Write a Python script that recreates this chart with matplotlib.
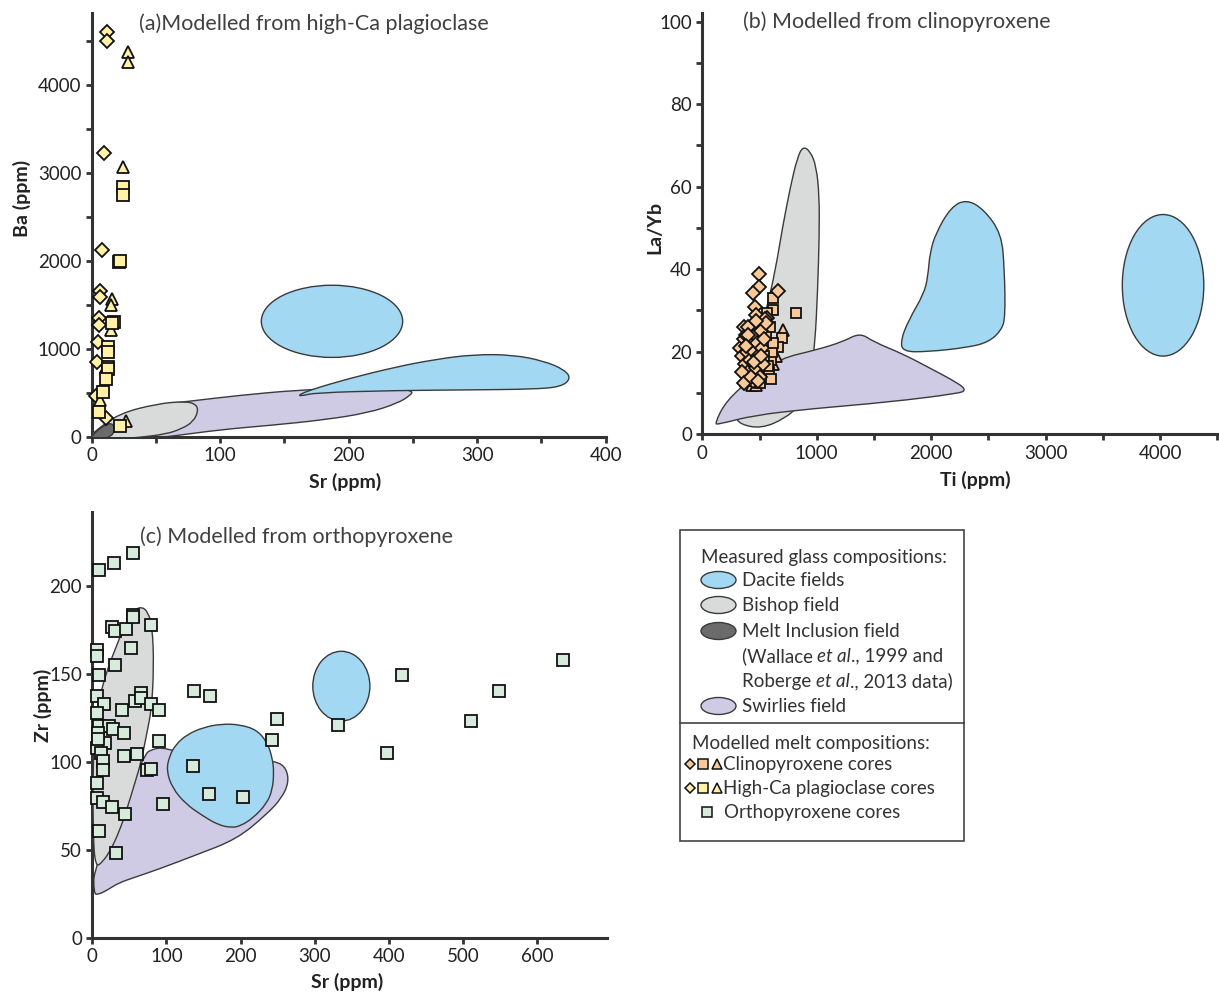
import numpy as np
import matplotlib
matplotlib.use('Agg')
import matplotlib.pyplot as plt
from matplotlib.path import Path
from matplotlib.patches import PathPatch, Ellipse, Rectangle

plt.rcParams['font.family'] = ['Lato', 'DejaVu Sans']

# ---------------- data ----------------
# (a) melts modelled from high-Ca plagioclase: Sr vs Ba
plag_dia_sr = [11.7, 11.7, 9.8, 8.3, 6.5, 6.5, 5.8, 5.8, 5.2, 3.9, 3.0, 10.9]
plag_dia_ba = [4602, 4500, 3227, 2121, 1656, 1584, 1345, 1269, 1080, 845, 466, 209]
plag_sq_sr = [24.1, 24.1, 21.5, 22.0, 17.6, 16.0, 12.9, 12.9, 12.4, 12.4, 11.1, 8.5, 5.9, 22.0]
plag_sq_ba = [2834, 2747, 1981, 2000, 1307, 1290, 1023, 966, 796, 765, 652, 511, 284, 125]
plag_tri_sr = [28.0, 28.0, 24.6, 15.6, 15.0, 15.0, 6.5, 26.5, 11.5]
plag_tri_ba = [4367, 4261, 3068, 1565, 1497, 1212, 417, 174, 790]

# (b) melts modelled from clinopyroxene: Ti vs La/Yb
cpx_dia_ti = [498, 496, 446, 659, 461, 469, 365, 563, 330, 345, 360, 370, 380, 390, 400,
              410, 420, 430, 440, 450, 460, 470, 480, 490, 500, 510, 520, 530, 540, 350,
              365, 395, 425, 455, 485, 515, 545, 560, 470, 400, 380]
cpx_dia_layb = [38.9, 35.6, 34.3, 34.6, 30.8, 28.9, 25.9, 28.1, 21.0, 19.0, 23.0, 17.0, 24.0,
                20.0, 15.0, 22.0, 18.0, 26.0, 13.0, 20.0, 24.0, 16.0, 22.0, 19.0, 14.0, 25.0,
                21.0, 17.0, 23.0, 15.0, 12.5, 26.0, 14.0, 17.5, 13.0, 19.0, 28.0, 27.0, 27.5,
                24.0, 21.5]
cpx_sq_ti = [615, 816, 615, 563, 694, 664, 420, 460, 500, 540, 580, 600, 610, 620, 560,
             590, 540, 575, 600]
cpx_sq_layb = [33.0, 29.5, 30.1, 29.3, 23.3, 21.1, 13.0, 13.0, 12.5, 14.0, 15.0, 18.0, 20.0,
               22.0, 24.0, 26.0, 19.0, 16.5, 13.5]
cpx_tri_ti = [703, 380, 430, 470, 520, 560, 600, 620, 410, 640]
cpx_tri_layb = [25.3, 13.0, 12.0, 12.0, 15.0, 18.0, 21.0, 17.0, 16.0, 19.0]

# (c) melts modelled from orthopyroxene: Sr vs Zr
opx_sr = [9.6, 29.8, 54.9, 6.9, 6.9, 8.5, 30.9, 52.2, 27.2, 30.9, 45.8, 54.9, 54.9, 78.8,
          6.9, 16.0, 40.5, 57.5, 65.5, 65.5, 78.8, 89.5, 8.5, 22.9, 28.2, 43.2, 17.6, 89.5,
          43.2, 60.2, 6.9, 12.3, 14.9, 13.9, 73.5, 78.8, 6.9, 6.9, 13.9, 27.2, 44.2, 94.8,
          9.6, 32.5, 6.4, 8.0, 8.0, 137.5, 158.8, 136.4, 157.7, 203.0, 249.3, 242.9, 331.9,
          417.2, 397.4, 510.4, 548.7, 635.6]
opx_zr = [208.6, 213.1, 218.4, 163.6, 159.9, 149.5, 154.8, 164.6, 176.3, 174.0, 175.5, 183.5,
          182.2, 177.8, 137.2, 133.0, 129.3, 134.4, 139.1, 136.2, 133.0, 129.3, 120.2, 120.2,
          118.7, 116.4, 110.7, 111.7, 103.2, 104.1, 107.9, 105.1, 100.3, 95.2, 95.2, 96.0,
          88.1, 79.6, 77.1, 74.5, 70.1, 75.8, 60.7, 48.0, 127.7, 116.4, 112.6, 140.4, 137.2,
          97.5, 81.4, 79.9, 124.0, 112.2, 120.6, 149.1, 105.1, 123.0, 140.4, 158.0]

# measured glass fields, outlines in data units
swirl_a_sr = [2, 20, 50, 80, 115, 160, 205, 238, 250, 248, 238, 215, 180, 140, 100, 60, 30, 2]
swirl_a_ba = [60, 230, 360, 410, 470, 530, 555, 550, 520, 470, 380, 270, 190, 130, 80, 0, -40, -40]
bishop_a_sr = [0, 2.5, 21, 51, 73, 81, 83, 79, 70, 58, 36, 15, 0]
bishop_a_ba = [20, 60, 262, 375, 402, 370, 295, 170, 90, 30, -10, -30, -20]
melt_a_sr = [0, 3, 8, 13, 17, 18, 15, 8, 0]
melt_a_ba = [0, 50, 110, 152, 140, 70, 0, -20, -20]
dacite_a_sr = [161, 172, 200, 236, 266, 297, 328, 352, 368, 373, 365, 343, 297, 236, 174, 163]
dacite_a_ba = [475, 540, 660, 790, 875, 935, 930, 860, 760, 660, 565, 540, 532, 525, 500, 462]
dacite_a_ell = (187, 1311, 110, 820)   # centre Sr, centre Ba, width, height

bishop_b_ti = [880, 945, 995, 1022, 1022, 1008, 985, 940, 850, 720, 515, 330, 285, 330,
               450, 560, 640, 700, 770, 830]
bishop_b_layb = [69.8, 68.5, 65, 58, 48, 35, 22, 12, 7, 3.8, 1.4, 2.4, 4.5, 10, 20, 30, 40,
                 50, 60, 67]
swirl_b_ti = [108, 210, 447, 684, 989, 1226, 1378, 1497, 1750, 1971, 2242, 2303, 2242, 1632,
              955, 447, 142]
swirl_b_layb = [2.6, 8.2, 13.9, 18.4, 20.4, 22.4, 24.6, 22.4, 19.5, 16.3, 12.3, 10.7, 9.9,
                7.8, 6.2, 4.6, 2.4]
dacite_b_ti = [2310, 2460, 2614, 2640, 2648, 2614, 2500, 2310, 1971, 1751, 1734, 1802, 1937,
               1971, 1988, 2039, 2174]
dacite_b_layb = [56.9, 54.5, 48.6, 40, 28.5, 25.2, 22.3, 21.0, 20.0, 20.0, 22.8, 27.6, 34.1,
                 38.2, 43.8, 48.7, 55.1]
dacite_b_ell = (4026, 36.1, 712, 34.3)

bishop_c_sr = [4, 1, 1, 4, 10, 20, 31, 47, 58, 67, 75, 81, 83, 80, 73.5, 66, 57.5, 46, 36,
               25, 14]
bishop_c_zr = [40, 60, 100, 125, 137, 152, 164, 181, 186.5, 188, 185, 177, 154, 130, 116,
               100, 88, 72, 60, 50, 43]
swirl_c_sr = [2, 8, 20, 35, 55, 90, 140, 195, 235, 255, 265, 262, 250, 235, 220, 150, 110,
              95, 80, 70, 2]
swirl_c_zr = [25, 24.5, 27, 31, 34, 39, 47, 56, 70, 79, 88, 96, 100, 100, 104, 106, 106, 108,
              107, 104, 40]
dacite_c_sr = [100, 104, 112, 128, 150, 175, 200, 222, 236, 243, 245, 243, 235, 217, 200,
               188, 170, 148, 126, 108]
dacite_c_zr = [95, 103, 109.5, 115.5, 119.5, 121.5, 121, 118, 111, 102, 94, 84, 76, 68, 63.5,
               62.5, 64, 69.5, 76, 85]
dacite_c_ell = (336, 142.9, 77, 39.6)

# ticks
a_xticks = list(range(0, 401, 50))
a_xlabels = ['0', '', '100', '', '200', '', '300', '', '400']
a_yticks = list(range(0, 4501, 500))
a_ylabels = ['0', '', '1000', '', '2000', '', '3000', '', '4000', '']
b_xticks = list(range(0, 4501, 500))
b_xlabels = ['0', '', '1000', '', '2000', '', '3000', '', '4000', '']
b_yticks = list(range(0, 101, 10))
b_ylabels = ['0', '', '20', '', '40', '', '60', '', '80', '', '100']
c_xticks = list(range(0, 601, 100))
c_yticks = list(range(0, 201, 50))

# ---------------- styles ----------------
C_DACITE = '#a3d8f3'
C_BISHOP = '#d9dbda'
C_MELT = '#6b6b6b'
C_SWIRL = '#d0cbe5'
C_PLAG = '#fff1a6'
C_CPX = '#f9c898'
C_OPX = '#d7ebdc'
EDGE = '#3a3a3a'
INK = '#222222'
TICK_FS = 13.5
LABEL_FS = 14
TITLE_FS = 15.5


def smooth_field(ax, xs, ys, color, z):
    # closed quadratic B-spline through the midpoints of the outline vertices
    pts = np.column_stack([xs, ys]).astype(float)
    mids = (pts + np.roll(pts, -1, axis=0)) / 2
    verts = [mids[-1]]
    codes = [Path.MOVETO]
    for i in range(len(pts)):
        verts += [pts[i], mids[i]]
        codes += [Path.CURVE3, Path.CURVE3]
    verts.append(mids[-1])
    codes.append(Path.CLOSEPOLY)
    ax.add_patch(PathPatch(Path(verts, codes), facecolor=color, edgecolor=EDGE,
                           lw=1.0, zorder=z))


def ellipse_field(ax, spec, color, z):
    x0, y0, w, h = spec
    ax.add_patch(Ellipse((x0, y0), w, h, facecolor=color, edgecolor=EDGE, lw=1.0, zorder=z))


def style_axes(ax):
    for s in ['top', 'right']:
        ax.spines[s].set_visible(False)
    for s in ['left', 'bottom']:
        ax.spines[s].set_linewidth(2.2)
        ax.spines[s].set_color('#333333')
    ax.tick_params(direction='out', length=4.5, width=2.0, color='#333333',
                   labelsize=TICK_FS, labelcolor=INK, pad=3)
    ax.set_facecolor('none')


def pts(ax, x, y, marker, ms, color):
    ax.plot(x, y, linestyle='none', marker=marker, ms=ms, mfc=color, mec='#111111',
            mew=1.3, zorder=10, clip_on=False)


W, H = 1219, 996
fig = plt.figure(figsize=(W / 100, H / 100), dpi=100)
fig.patch.set_facecolor('white')

# ---------------- (a) ----------------
ax1 = fig.add_axes([91.7 / W, 1 - 436.7 / H, 514 / W, 424 / H])
style_axes(ax1)
smooth_field(ax1, swirl_a_sr, swirl_a_ba, C_SWIRL, 2)
smooth_field(ax1, bishop_a_sr, bishop_a_ba, C_BISHOP, 3)
smooth_field(ax1, melt_a_sr, melt_a_ba, C_MELT, 4)
smooth_field(ax1, dacite_a_sr, dacite_a_ba, C_DACITE, 5)
ellipse_field(ax1, dacite_a_ell, C_DACITE, 5)
pts(ax1, plag_dia_sr, plag_dia_ba, 'D', 7.2, C_PLAG)
pts(ax1, plag_tri_sr, plag_tri_ba, '^', 8.4, C_PLAG)
pts(ax1, plag_sq_sr, plag_sq_ba, 's', 8.0, C_PLAG)
ax1.set_xlim(0, 400)
ax1.set_ylim(0, 4818)
ax1.set_xticks(a_xticks, a_xlabels)
ax1.set_yticks(a_yticks, a_ylabels)
ax1.set_xlabel('Sr (ppm)', fontsize=LABEL_FS, fontweight='bold', color=INK, va='center')
ax1.set_ylabel('Ba (ppm)', fontsize=LABEL_FS, fontweight='bold', color=INK, va='center')
ax1.xaxis.set_label_coords(0.493, -0.107)
ax1.yaxis.set_label_coords(-0.136, 0.563)
ax1.text(0.092, 0.973, '(a)Modelled from high-Ca plagioclase', transform=ax1.transAxes,
         fontsize=TITLE_FS, color='#404040', va='center')

# ---------------- (b) ----------------
ax2 = fig.add_axes([702.3 / W, 1 - 434.3 / H, 515 / W, 421 / H])
style_axes(ax2)
smooth_field(ax2, bishop_b_ti, bishop_b_layb, C_BISHOP, 2)
smooth_field(ax2, swirl_b_ti, swirl_b_layb, C_SWIRL, 3)
smooth_field(ax2, dacite_b_ti, dacite_b_layb, C_DACITE, 4)
ellipse_field(ax2, dacite_b_ell, C_DACITE, 4)
pts(ax2, cpx_tri_ti, cpx_tri_layb, '^', 8.0, C_CPX)
pts(ax2, cpx_sq_ti, cpx_sq_layb, 's', 7.8, C_CPX)
pts(ax2, cpx_dia_ti, cpx_dia_layb, 'D', 7.0, C_CPX)
ax2.set_xlim(0, 4500)
ax2.set_ylim(0, 102)
ax2.set_xticks(b_xticks, b_xlabels)
ax2.set_yticks(b_yticks, b_ylabels)
ax2.set_xlabel('Ti (ppm)', fontsize=LABEL_FS, fontweight='bold', color=INK, va='center')
ax2.set_ylabel('La/Yb', fontsize=LABEL_FS, fontweight='bold', color=INK, va='center')
ax2.xaxis.set_label_coords(0.53, -0.109)
ax2.yaxis.set_label_coords(-0.092, 0.492)
ax2.text(0.079, 0.979, '(b) Modelled from clinopyroxene', transform=ax2.transAxes,
         fontsize=TITLE_FS, color='#404040', va='center')

# ---------------- (c) ----------------
ax3 = fig.add_axes([92.3 / W, 1 - 937.7 / H, 514.4 / W, 426 / H])
style_axes(ax3)
smooth_field(ax3, swirl_c_sr, swirl_c_zr, C_SWIRL, 2)
smooth_field(ax3, bishop_c_sr, bishop_c_zr, C_BISHOP, 3)
smooth_field(ax3, dacite_c_sr, dacite_c_zr, C_DACITE, 4)
ellipse_field(ax3, dacite_c_ell, C_DACITE, 4)
pts(ax3, opx_sr, opx_zr, 's', 9.0, C_OPX)
ax3.set_xlim(0, 694)
ax3.set_ylim(0, 242)
ax3.set_xticks(c_xticks)
ax3.set_yticks(c_yticks)
ax3.set_xlabel('Sr (ppm)', fontsize=LABEL_FS, fontweight='bold', color=INK, va='center')
ax3.set_ylabel('Zr (ppm)', fontsize=LABEL_FS, fontweight='bold', color=INK, va='center')
ax3.xaxis.set_label_coords(0.495, -0.103)
ax3.yaxis.set_label_coords(-0.096, 0.546)
ax3.text(0.093, 0.941, '(c) Modelled from orthopyroxene', transform=ax3.transAxes,
         fontsize=TITLE_FS, color='#404040', va='center')

# ---------------- legend box (pixel coordinates) ----------------
lax = fig.add_axes([0, 0, 1, 1])
lax.set_xlim(0, W)
lax.set_ylim(H, 0)
lax.axis('off')
lax.patch.set_alpha(0)

lax.add_patch(Rectangle((680, 530), 284, 311, facecolor='white', edgecolor='#444444', lw=1.2))
lax.plot([680, 964], [722.7, 722.7], color='#444444', lw=1.2)

LFS = 13.5
TXT = '#333333'
lax.text(700.7, 557, 'Measured glass compositions:', fontsize=LFS, color=TXT, va='center')
field_rows = [('Dacite fields', C_DACITE, 580), ('Bishop field', C_BISHOP, 605),
              ('Melt Inclusion field', C_MELT, 631), ('Swirlies field', C_SWIRL, 706)]
for label, col, yy in field_rows:
    lax.add_patch(Ellipse((718.5, yy), 35, 17, facecolor=col, edgecolor=EDGE, lw=1.0))
    lax.text(741.7, yy, label, fontsize=LFS, color=TXT, va='center')

renderer = fig.canvas.get_renderer()


def mixed_line(x, y, parts):
    # run of normal / italic pieces placed one after another
    for s, style in parts:
        t = lax.text(x, y, s, fontsize=LFS, color=TXT, va='center', style=style)
        bb = t.get_window_extent(renderer=renderer)
        x += bb.width


mixed_line(741.7, 656, [('(Wallace ', 'normal'), ('et al', 'italic'), ('., 1999 and', 'normal')])
mixed_line(741.7, 681, [('Roberge ', 'normal'), ('et al', 'italic'), ('., 2013 data)', 'normal')])

lax.text(691.7, 743, 'Modelled melt compositions:', fontsize=LFS, color=TXT, va='center')
for col, yy, label in [(C_CPX, 764, 'Clinopyroxene cores'),
                       (C_PLAG, 788, 'High-Ca plagioclase cores')]:
    lax.plot([690], [yy], linestyle='none', marker='D', ms=5.0, mfc=col, mec='#111111', mew=1.1)
    lax.plot([703], [yy], linestyle='none', marker='s', ms=6.6, mfc=col, mec='#111111', mew=1.1)
    lax.plot([716.7], [yy], linestyle='none', marker='^', ms=6.8, mfc=col, mec='#111111', mew=1.1)
    lax.text(723.3, yy, label, fontsize=LFS, color=TXT, va='center')
lax.plot([706.7], [812], linestyle='none', marker='s', ms=6.6, mfc=C_OPX, mec='#111111', mew=1.1)
lax.text(724, 812, 'Orthopyroxene cores', fontsize=LFS, color=TXT, va='center')

fig.savefig('out.png', dpi=100)
